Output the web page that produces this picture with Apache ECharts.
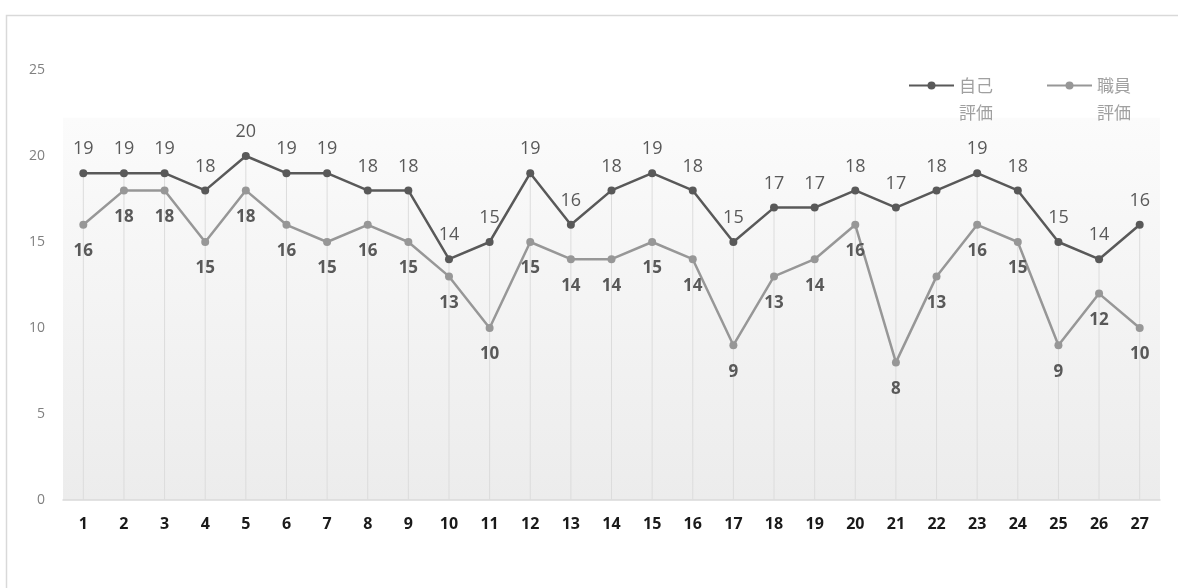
<!DOCTYPE html>
<html>
<head>
<meta charset="utf-8">
<script src="https://cdn.jsdelivr.net/npm/echarts@6/dist/echarts.min.js"></script>
<style>
  html, body { margin: 0; padding: 0; background: #fff; }
  #chart { width: 1178px; height: 588px; }
</style>
</head>
<body>
<div id="chart"></div>
<script>
var categories = ['1','2','3','4','5','6','7','8','9','10','11','12','13','14','15','16','17','18','19','20','21','22','23','24','25','26','27'];
var selfScores = [19,19,19,18,20,19,19,18,18,14,15,19,16,18,19,18,15,17,17,18,17,18,19,18,15,14,16];
var staffScores = [16,18,18,15,18,16,15,16,15,13,10,15,14,14,15,14,9,13,14,16,8,13,16,15,9,12,10];
var seriesNames = ['自己\n評価', '職員\n評価'];

var numFont = '"Open Sans", "Noto Sans", sans-serif';
var jpFont = '"Noto Sans CJK JP", sans-serif';

var myChart = echarts.init(document.getElementById('chart'));

var option = {
    backgroundColor: '#ffffff',
    animation: false,
    graphic: [
        {
            type: 'rect',
            left: 4,
            top: 13,
            shape: {width: 1200, height: 600},
            style: {fill: 'none', stroke: '#d9d9d9', lineWidth: 1.5},
            silent: true,
            z: -10
        }
    ],
    legend: {
        right: 42,
        top: 40,
        itemWidth: 45,
        itemHeight: 10,
        itemGap: 53,
        data: seriesNames,
        // blank first row so the icon sits level with the first text row
        formatter: function (name) {
            return ' \n' + name;
        },
        textStyle: {
            color: '#a0a0a0',
            fontFamily: jpFont,
            fontSize: 17,
            lineHeight: 27
        }
    },
    grid: {
        left: 63,
        right: 18,
        top: 70,
        bottom: 88,
        show: true,
        borderWidth: 0,
        backgroundColor: {
            type: 'linear', x: 0, y: 0, x2: 0, y2: 1,
            colorStops: [
                {offset: 0, color: '#ffffff'},
                {offset: 0.11, color: '#ffffff'},
                {offset: 0.112, color: '#fbfbfb'},
                {offset: 1, color: '#ececec'}
            ]
        }
    },
    xAxis: {
        type: 'category',
        data: categories,
        boundaryGap: true,
        axisLine: {lineStyle: {color: '#d9d9d9', width: 1.5}},
        axisTick: {show: false},
        splitLine: {show: false},
        axisLabel: {
            color: '#1a1a1a',
            fontFamily: numFont,
            fontSize: 16,
            fontWeight: 'bold',
            margin: 16
        }
    },
    yAxis: {
        type: 'value',
        min: 0,
        max: 25,
        interval: 5,
        axisLine: {show: false},
        axisTick: {show: false},
        splitLine: {show: false},
        axisLabel: {
            color: '#808080',
            fontFamily: numFont,
            fontSize: 14,
            margin: 18
        }
    },
    series: [
        {
            // drop lines from the highest point down to the axis
            type: 'bar',
            data: selfScores,
            barWidth: 1,
            silent: true,
            itemStyle: {color: '#dcdcdc'},
            z: 1
        },
        {
            name: seriesNames[0],
            type: 'line',
            data: selfScores,
            symbol: 'circle',
            symbolSize: 8,
            lineStyle: {color: '#595959', width: 2.5},
            itemStyle: {color: '#595959'},
            label: {
                show: true,
                position: 'top',
                distance: 11,
                color: '#595959',
                fontFamily: numFont,
                fontSize: 18
            },
            z: 4
        },
        {
            name: seriesNames[1],
            type: 'line',
            data: staffScores,
            symbol: 'circle',
            symbolSize: 8,
            lineStyle: {color: '#979797', width: 2.5},
            itemStyle: {color: '#979797'},
            label: {
                show: true,
                position: 'bottom',
                distance: 14,
                color: '#595959',
                fontFamily: numFont,
                fontSize: 17,
                fontWeight: 'bold'
            },
            z: 3
        }
    ]
};

myChart.setOption(option);
</script>
</body>
</html>
